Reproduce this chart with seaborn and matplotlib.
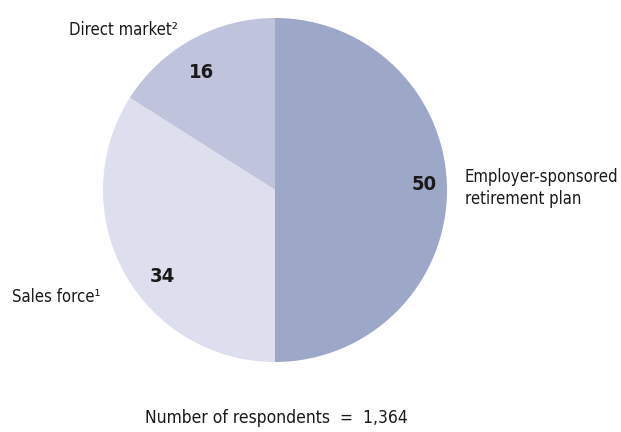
import matplotlib
matplotlib.use("Agg")
import matplotlib.pyplot as plt
import seaborn as sns

sns.set_theme(style="white")
plt.rcParams["font.family"] = ["DejaVu Sans"]
plt.rcParams["font.stretch"] = "condensed"

# Share of respondents by channel (percent)
channels = ["Direct market", "Sales force", "Employer-sponsored\nretirement plan"]
notes = ["\u00b2", "\u00b9", ""]
shares = [16, 34, 50]
colors = ["#bfc3dc", "#dedfee", "#9da7c7"]
respondents = 1364

fig = plt.figure(figsize=(6.21, 4.32), dpi=100)
ax = fig.add_axes([0, 0, 1, 1])

ax.pie(shares, colors=colors, startangle=90, counterclock=True,
       center=(275, 242), radius=172, wedgeprops=dict(linewidth=0))

# pie() resets the limits, so fix the pixel-based frame afterwards
ax.set_xlim(0, 621)
ax.set_ylim(0, 432)
ax.set_aspect("equal")
ax.axis("off")

ink = "#1a1a1a"

# Value labels inside slices
value_pos = [(202, 359), (162, 155), (424, 247)]
for v, (x, y) in zip(shares, value_pos):
    ax.text(x, y, f"{v}", ha="center", va="center", fontsize=14.5,
            fontweight="bold", color=ink)

# Category labels
label_pos = [(69, 402), (12, 135), (465, 244)]
for name, note, (x, y) in zip(channels, notes, label_pos):
    ax.text(x, y, name + note, ha="left", va="center", fontsize=12,
            color=ink, linespacing=1.35)

ax.text(276, 14, f"Number of respondents  =  {respondents:,}", ha="center",
        va="center", fontsize=12.5, color=ink)

fig.savefig("out.png", dpi=100, facecolor="white")
